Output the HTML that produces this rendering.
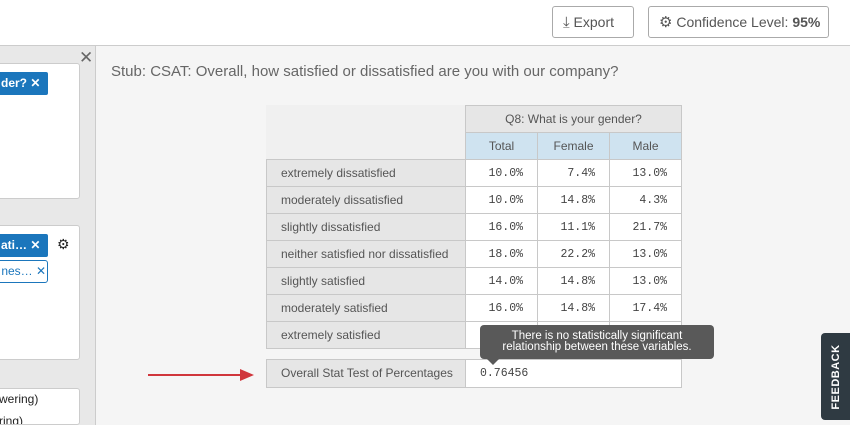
<!DOCTYPE html>
<html><head><meta charset="utf-8"><style>
*{box-sizing:border-box;margin:0;padding:0}
html,body{width:850px;height:425px;overflow:hidden}
body{position:relative;background:#f5f5f5;font-family:"Liberation Sans",sans-serif;color:#555}
.abs{position:absolute}
#top{left:0;top:0;width:850px;height:46px;background:#fff;border-bottom:1px solid #ccc}
.btn{top:6px;height:32px;border:1px solid #aaa;border-radius:3px;background:#fff;font-size:14px;color:#555;line-height:30px}
#left{left:0;top:46px;width:96px;height:379px;background:#e8e8e8;border-right:1px solid #ccc;overflow:hidden}
.box{left:-4px;width:84px;background:#fff;border:1px solid #ccc;border-radius:3px;overflow:hidden}
.tag{position:absolute;left:0;height:23px;background:#1b76bc;color:#fff;font-size:12px;font-weight:bold;line-height:23px;border-radius:2px;padding-left:4px}
.tag2{position:absolute;left:0;height:23px;background:#fff;border:1px solid #1b76bc;color:#1b76bc;font-size:12px;line-height:21px;border-radius:3px}
.c{position:absolute;border:1px solid #c8c8c8;font-size:12px;color:#555;height:28px;line-height:26px;white-space:nowrap;overflow:hidden}
.lab{left:266px;width:200px;background:#e6e6e6;padding-left:14px}
.num{background:#fff;font-family:"Liberation Mono",monospace;font-size:11.5px;text-align:right;padding-right:14px;color:#444;line-height:28px}
.hd{background:#cfe3f0;text-align:center}
</style></head><body>
<div id="top" class="abs"></div>
<div class="abs btn" style="left:552px;width:82px;padding-left:10px"><span style="font-size:15px">⤓</span> Export</div>
<div class="abs btn" style="left:648px;width:181px;padding-left:10px"><span style="font-size:15px">⚙</span> Confidence Level: <b>95%</b></div>
<div id="left" class="abs">
<div class="abs" style="left:79px;top:2px;font-size:17px;color:#666">✕</div>
<div class="abs box" style="top:17px;height:136px"><div class="tag" style="top:8px;width:51px">der? ✕</div></div>
<div class="abs box" style="top:179px;height:135px"><div class="tag" style="top:8px;width:51px">ati… ✕</div><div class="tag2" style="top:34px;width:51px">&nbsp;nes… ✕</div></div>
<div class="abs" style="left:57px;top:190px;font-size:14px;color:#222">⚙</div>
<div class="abs box" style="top:342px;height:37px;font-size:12px;color:#222">
<div class="abs" style="left:2px;top:3px;white-space:nowrap">wering)</div>
<div class="abs" style="left:2px;top:25px;white-space:nowrap">ring)</div>
</div>
</div>
<div class="abs" style="left:111px;top:63px;font-size:15px;color:#666">Stub: CSAT: Overall, how satisfied or dissatisfied are you with our company?</div>
<div class="abs" style="left:266px;top:105px;width:200px;height:55px;background:#f0f0f0"></div>
<div class="c" style="left:465px;top:105px;width:217px;background:#e6e6e6;text-align:center">Q8: What is your gender?</div>
<div class="c hd" style="left:465px;top:132px;width:73px">Total</div>
<div class="c hd" style="left:537px;top:132px;width:73px">Female</div>
<div class="c hd" style="left:609px;top:132px;width:73px">Male</div>
<div id="rows"></div>
<div class="c lab" style="top:359px;height:29px;line-height:27px">Overall Stat Test of Percentages</div>
<div class="c num" style="left:465px;top:359px;width:217px;height:29px;text-align:left;padding-left:14px">0.76456</div>
<div class="abs" style="left:148px;top:374px;width:96px;height:2px;background:#d0363c"></div>
<div class="abs" style="left:240px;top:369px;width:0;height:0;border-top:6px solid transparent;border-bottom:6px solid transparent;border-left:14px solid #d0363c"></div>
<div class="abs" style="left:480px;top:325px;width:234px;height:34px;background:#595959;border-radius:4px;color:#fff;font-size:11.5px;text-align:center;line-height:11px;padding-top:6px">There is no statistically significant<br>relationship between these variables.</div>
<div class="abs" style="left:487px;top:359px;border-left:6px solid transparent;border-right:6px solid transparent;border-top:6px solid #595959"></div>
<div class="abs" style="left:821px;top:333px;width:29px;height:87px;background:#2f3a42;border-radius:4px 0 0 4px"></div>
<div class="abs" style="left:791px;top:362px;width:90px;height:30px;color:#fff;font-size:11px;font-weight:bold;transform:rotate(-90deg);letter-spacing:0.5px;white-space:nowrap;text-align:center;line-height:30px">FEEDBACK</div>
<script>
var d=[["extremely dissatisfied","10.0%","7.4%","13.0%"],["moderately dissatisfied","10.0%","14.8%","4.3%"],["slightly dissatisfied","16.0%","11.1%","21.7%"],["neither satisfied nor dissatisfied","18.0%","22.2%","13.0%"],["slightly satisfied","14.0%","14.8%","13.0%"],["moderately satisfied","16.0%","14.8%","17.4%"],["extremely satisfied","16.0%","14.8%","17.4%"]];
var h="";d.forEach(function(r,i){var y=159+i*27;h+='<div class="c lab" style="top:'+y+'px">'+r[0]+'</div>';[465,537,609].forEach(function(x,j){h+='<div class="c num" style="left:'+x+'px;top:'+y+'px;width:73px">'+r[j+1]+'</div>'})});
document.getElementById("rows").innerHTML=h;
</script>
</body></html>
